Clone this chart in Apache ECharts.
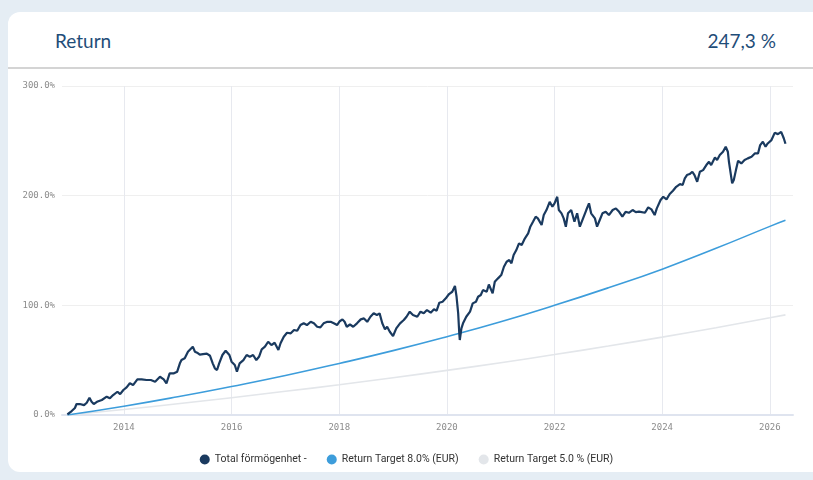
<!DOCTYPE html>
<html><head><meta charset="utf-8">
<script src="https://cdn.jsdelivr.net/npm/echarts@6/dist/echarts.min.js"></script>
<style>
html,body{margin:0;padding:0;width:813px;height:480px;overflow:hidden;background:#e5edf4;}
#card{position:absolute;left:8px;top:12px;width:830px;height:460px;background:#fff;border-radius:12px;}
#sep{position:absolute;left:8px;top:67px;width:805px;height:2px;background:#d4d4d4;}
.hd{position:absolute;top:29px;font-family:Lato,'Open Sans',sans-serif;font-size:19px;color:#1f4d78;line-height:24px;white-space:nowrap;}
#chart{position:absolute;left:0;top:0;width:813px;height:480px;}
</style></head>
<body>
<div id="card"></div><div id="sep"></div>
<div class="hd" style="left:55px">Return</div>
<div class="hd" style="right:37px">247,3 %</div>
<div id="chart"></div>
<script>
const seriesNames = ['Total förmögenhet -', 'Return Target 8.0% (EUR)', 'Return Target 5.0 % (EUR)'];
const yTicks = [0, 100, 200, 300];

const totalYears = [2012.95,2013.03,2013.09,2013.12,2013.18,2013.26,2013.31,2013.36,2013.40,2013.44,2013.50,2013.59,2013.68,2013.74,2013.80,2013.88,2013.93,2013.99,
2014.05,2014.11,2014.17,2014.25,2014.33,2014.42,2014.50,2014.58,2014.67,2014.74,2014.79,2014.85,2014.93,2014.99,
2015.04,2015.07,2015.13,2015.19,2015.28,2015.32,2015.36,2015.41,2015.47,2015.54,2015.60,2015.65,2015.69,2015.73,2015.77,2015.83,2015.89,2015.96,
2016.00,2016.06,2016.10,2016.15,2016.22,2016.28,2016.34,2016.40,2016.46,2016.51,2016.56,2016.62,2016.68,2016.74,2016.80,2016.87,2016.91,2016.97,
2017.03,2017.10,2017.16,2017.22,2017.28,2017.34,2017.40,2017.47,2017.53,2017.59,2017.65,2017.71,2017.78,2017.84,2017.90,2017.96,
2018.01,2018.06,2018.10,2018.14,2018.20,2018.26,2018.33,2018.40,2018.46,2018.52,2018.58,2018.64,2018.70,2018.75,2018.80,2018.85,2018.89,2018.94,
2019.00,2019.06,2019.13,2019.20,2019.25,2019.31,2019.37,2019.45,2019.51,2019.57,2019.63,2019.70,2019.76,2019.81,2019.86,2019.92,2019.98,
2020.04,2020.10,2020.15,2020.18,2020.21,2020.23,2020.24,2020.27,2020.30,2020.36,2020.43,2020.48,2020.54,2020.58,2020.63,2020.67,2020.74,2020.78,2020.85,2020.89,2020.95,
2021.01,2021.06,2021.11,2021.16,2021.20,2021.24,2021.29,2021.34,2021.39,2021.45,2021.51,2021.55,2021.60,2021.65,2021.69,2021.76,2021.80,2021.85,2021.91,2021.96,
2022.00,2022.05,2022.08,2022.13,2022.17,2022.21,2022.25,2022.31,2022.37,2022.42,2022.47,2022.53,2022.59,2022.64,2022.68,2022.75,2022.79,2022.84,2022.89,2022.95,
2023.01,2023.08,2023.14,2023.20,2023.26,2023.32,2023.38,2023.45,2023.51,2023.57,2023.68,2023.74,2023.80,2023.86,2023.90,2023.97,
2024.02,2024.08,2024.14,2024.20,2024.26,2024.33,2024.38,2024.42,2024.46,2024.51,2024.56,2024.60,2024.65,2024.70,2024.76,2024.82,2024.87,2024.91,2024.98,
2025.02,2025.07,2025.13,2025.18,2025.22,2025.24,2025.27,2025.30,2025.33,2025.37,2025.41,2025.47,2025.53,2025.59,2025.66,2025.72,2025.78,2025.82,2025.87,2025.92,2025.96,
2026.03,2026.09,2026.15,2026.21,2026.26,2026.29];

const totalReturn = [0.5,3.6,6.4,10,10,9,11.2,15.8,12,10,12,13.7,16.7,15.2,18.2,21.2,19,22.8,
25.2,28.9,27.3,32.5,32.5,31.9,31.9,30.4,34.9,32.5,28.9,38,38,39.5,
47.1,50.1,51.7,57.7,62.3,57.7,56.8,55,55.5,56,54,47.1,42.6,41,47.1,54.7,58.6,54.7,
48.6,45.6,39.5,47.1,50.1,54.7,53.1,54.7,50.1,53.1,59.9,62.3,66.8,63.8,65.9,59.3,65.4,71.4,
75,74.5,77.5,76.8,82,83.6,82,85,83.6,80.5,79.9,83.6,85,85,83.6,82,
85.5,87.2,85,80.5,82.5,80.5,83.6,87.2,88.1,85,89.6,92.7,91.2,92.7,83.6,78.1,80.5,75.9,
72,79,83.6,86.6,89.6,94.2,91.2,89.6,94.2,92.7,95.7,93.3,96.4,95.1,102.4,103.3,106.4,
110.3,112.4,117.6,107.8,92.7,74.5,68.4,79,83.6,89.6,94.2,101.8,103.3,107.8,109.4,113.9,112.4,119,110.9,121.5,124.6,
127.6,135.2,139.7,141.3,138.3,145.9,150.4,156.5,155,161.1,165.6,171.7,176.2,180.8,179.3,173.2,182.3,186.9,194.4,189.9,
193,199,186.9,183.9,179.3,171.7,183.9,186.9,176.2,183.9,171.7,179.3,186.9,193,183.9,179.3,171.7,177.8,183.9,185.3,
182.3,186.9,188.4,185.3,180.8,185.3,184.4,186.9,185,185.5,184.4,189.3,187.5,182.3,188.4,196,
199,196.6,201.5,204.5,208.1,210.6,209.7,215.8,218.8,219.7,221.8,218.8,212.7,221.8,223.3,227.9,230.9,227.9,234.9,
232.5,237,240,244.6,240,230.9,229.4,211.2,214.2,223.3,231.8,229.4,232.5,234,235.5,238.5,238.5,246.1,249.1,244.6,247.6,
250.7,257.3,256.1,258.2,252.1,247.3];

const targetYears = [2012.95,2014,2015,2016,2017,2018,2019,2020,2021,2022,2023,2024,2025,2026,2026.29];
const target8 = [0,8,16.6,26,36,47,58.7,71.4,85,100,116,133,152,172,177.5];
const target5 = [0,5,10.3,15.8,21.6,27.6,34,40.7,47.7,55.1,62.9,71,79.6,88.6,91.3];

const pair = (xs, ys) => xs.map((x, i) => [x, ys[i]]);

const chart = echarts.init(document.getElementById('chart'), null, {renderer: 'canvas'});
chart.setOption({
  animation: false,
  grid: {left: 62, right: 20, top: 86, bottom: 65},
  legend: {
    top: 449, left: 'center', icon: 'circle', itemWidth: 10, itemHeight: 10, itemGap: 20,
    data: seriesNames,
    textStyle: {fontFamily: 'Roboto', fontSize: 10.5, color: '#333'}
  },
  xAxis: {
    type: 'value', min: 2012.85, max: 2026.43, splitNumber: 7,
    axisLine: {show: true, lineStyle: {color: '#dfe4ef', width: 2}},
    axisTick: {show: false},
    axisLabel: {
      formatter: v => Math.abs(v - Math.round(v)) < 1e-6 ? String(Math.round(v)) : '',
      showMinLabel: false, showMaxLabel: false,
      fontFamily: 'DejaVu Sans Mono', fontSize: 9, color: '#8c8c8c', margin: 8
    },
    splitLine: {show: true, showMinLine: false, showMaxLine: false, lineStyle: {color: '#e7e9ef', width: 1}}
  },
  yAxis: {
    type: 'value', min: yTicks[0], max: yTicks[yTicks.length - 1], interval: 100,
    axisLine: {show: false}, axisTick: {show: false},
    axisLabel: {formatter: v => v.toFixed(1) + '%', fontFamily: 'DejaVu Sans Mono', fontSize: 9, color: '#8c8c8c', margin: 7},
    splitLine: {lineStyle: {color: '#efefef', width: 1}}
  },
  series: [
    {name: seriesNames[0], type: 'line', data: pair(totalYears, totalReturn), showSymbol: false, z: 5,
     lineStyle: {color: '#1a3a5f', width: 2.2}, itemStyle: {color: '#1a3a5f'}},
    {name: seriesNames[1], type: 'line', data: pair(targetYears, target8), showSymbol: false, smooth: true, z: 3,
     lineStyle: {color: '#3d9ddb', width: 1.6}, itemStyle: {color: '#3d9ddb'}},
    {name: seriesNames[2], type: 'line', data: pair(targetYears, target5), showSymbol: false, smooth: true, z: 2,
     lineStyle: {color: '#e3e6ea', width: 1.6}, itemStyle: {color: '#e3e6ea'}}
  ]
});
</script>
</body></html>
